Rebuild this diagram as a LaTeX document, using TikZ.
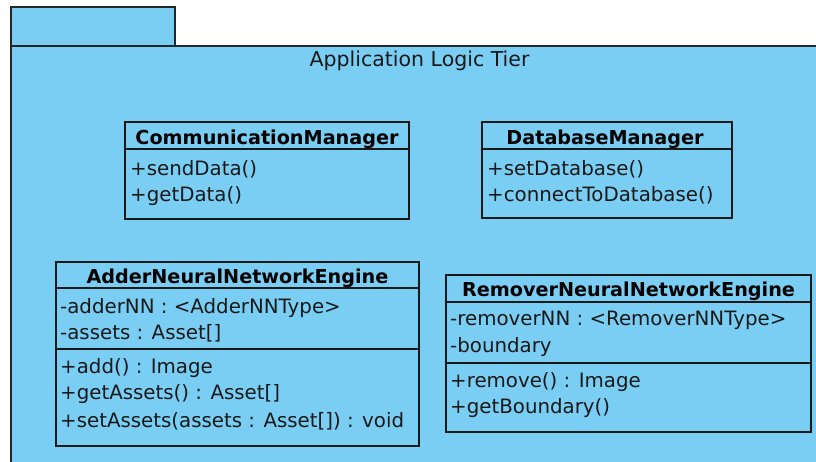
\documentclass[tikz,border=0pt]{standalone}
\usepackage{fontspec}
\setmainfont{DejaVu Sans}
\definecolor{pkgblue}{RGB}{122,206,244}
\begin{document}
\begin{tikzpicture}[x=1pt,y=-1pt,
  pkgpart/.style={draw=black!85, line width=1.3pt, fill=pkgblue, anchor=north west,
    inner sep=0pt, outer sep=0pt},
  classbox/.style={draw=black!90, line width=1.4pt, fill=pkgblue, anchor=north west,
    inner sep=0pt, outer sep=0pt},
  divider/.style={draw=black!90, line width=1.1pt},
  member/.style={anchor=base west, inner sep=0pt, text=black!90, font=\fontsize{19.8}{22}\selectfont},
  cname/.style={anchor=base, inner sep=0pt, font=\fontsize{19.2}{22}\selectfont\bfseries},
  pkgname/.style={anchor=base, inner sep=0pt, text=black!90, font=\fontsize{20.5}{22}\selectfont}]
\useasboundingbox (0,0) rectangle (816,461);
\fill[white] (0,0) rectangle (816,461);

% package frame: tab and body, running past the right and bottom edges
\begin{scope}
  \clip (0,0) rectangle (816,461);
  \node[pkgpart, minimum width=164pt, minimum height=39pt] (tab) at (11,7) {};
  \node[pkgpart, minimum width=830pt, minimum height=440pt] (body) at (11,46) {};
\end{scope}
\node[pkgname] (pkgtitle) at (419.5,66) {Application Logic Tier};

% CommunicationManager
\node[classbox, minimum width=284pt, minimum height=97pt] (cm) at (125,122) {};
\node[cname] (cmname) at (267,144) {CommunicationManager};
\draw[divider] (cm.west |- 0,149) -- (cm.east |- 0,149);
\node[member] (cm1) at (130,175) {+sendData()};
\node[member] (cm2) at (130,201) {+getData()};

% DatabaseManager
\node[classbox, minimum width=250pt, minimum height=96pt] (db) at (482,122) {};
\node[cname] (dbname) at (605,144) {DatabaseManager};
\draw[divider] (db.west |- 0,149) -- (db.east |- 0,149);
\node[member] (db1) at (487,175) {+setDatabase()};
\node[member] (db2) at (487,201) {+connectToDatabase()};

% AdderNeuralNetworkEngine
\node[classbox, minimum width=363pt, minimum height=184pt] (an) at (56,262) {};
\node[cname] (anname) at (237.5,283) {AdderNeuralNetworkEngine};
\draw[divider] (an.west |- 0,288) -- (an.east |- 0,288);
\draw[divider] (an.west |- 0,349) -- (an.east |- 0,349);
\node[member] (an1) at (60,313) {-adderNN : <AdderNNType>};
\node[member] (an2) at (60,339) {-assets : Asset[]};
\node[member] (an3) at (60,373) {+add() : Image};
\node[member] (an4) at (60,399) {+getAssets() : Asset[]};
\node[member] (an5) at (60,427) {+setAssets(assets : Asset[]) : void};

% RemoverNeuralNetworkEngine
\node[classbox, minimum width=365pt, minimum height=157pt] (rn) at (446,275) {};
\node[cname] (rnname) at (628.5,296) {RemoverNeuralNetworkEngine};
\draw[divider] (rn.west |- 0,302) -- (rn.east |- 0,302);
\draw[divider] (rn.west |- 0,363) -- (rn.east |- 0,363);
\node[member] (rn1) at (450,325) {-removerNN : <RemoverNNType>};
\node[member] (rn2) at (450,352) {-boundary};
\node[member] (rn3) at (450,387) {+remove() : Image};
\node[member] (rn4) at (450,413) {+getBoundary()};
\end{tikzpicture}
\end{document}
